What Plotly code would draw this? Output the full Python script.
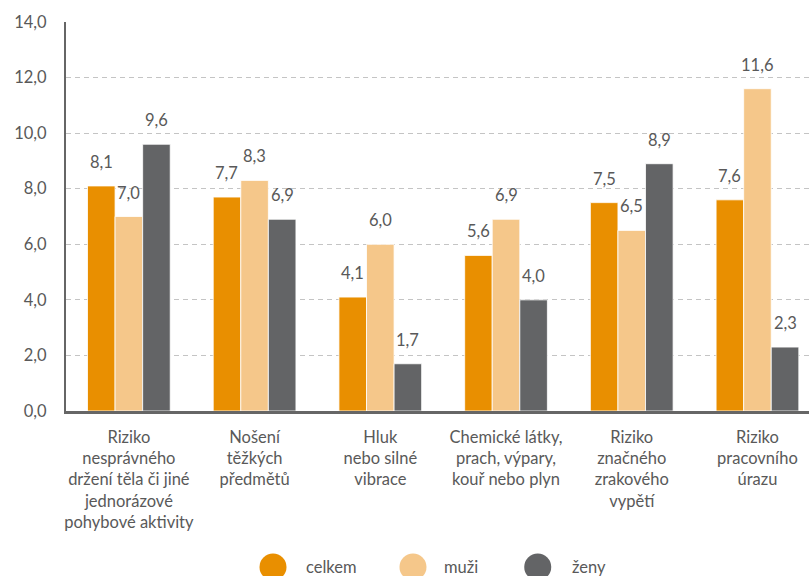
import plotly.graph_objects as go

categories = [
    "Riziko<br>nesprávného<br>držení těla či jiné<br>jednorázové<br>pohybové aktivity",
    "Nošení<br>těžkých<br>předmětů",
    "Hluk<br>nebo silné<br>vibrace",
    "Chemické látky,<br>prach, výpary,<br>kouř nebo plyn",
    "Riziko<br>značného<br>zrakového<br>vypětí",
    "Riziko<br>pracovního<br>úrazu",
]
series_names = ["celkem", "muži", "ženy"]
celkem = [8.1, 7.7, 4.1, 5.6, 7.5, 7.6]
muzi = [7.0, 8.3, 6.0, 6.9, 6.5, 11.6]
zeny = [9.6, 6.9, 1.7, 4.0, 8.9, 2.3]
y_ticks = [0, 2, 4, 6, 8, 10, 12, 14]

colors = ["#E98F00", "#F5C78A", "#636466"]
series_values = [celkem, muzi, zeny]
FONT = "Lato, 'Open Sans', sans-serif"
TXT = "#595959"
FS = 16.5

fig = go.Figure()
for name, vals, col in zip(series_names, series_values, colors):
    fig.add_trace(go.Bar(
        name=name, x=categories, y=vals,
        marker=dict(color=col, line=dict(color="rgba(255,255,255,0.8)", width=1)),
        showlegend=False, hoverinfo="x+y",
    ))

# value labels
bar_px = 27.6
shifts = [-bar_px, 0, bar_px]
annotations = []
for vals, dx in zip(series_values, shifts):
    for c, v in zip(categories, vals):
        annotations.append(dict(
            x=c, y=v, xref="x", yref="y", text=f"{v:.1f}".replace(".", ","),
            showarrow=False, xshift=dx, yshift=24, yanchor="middle",
            font=dict(family=FONT, size=FS, color=TXT),
        ))

# custom legend (large circles)
legend_circle_x = [0.2786, 0.467, 0.6349]
legend_text_x = [0.3204, 0.5057, 0.6783]
legend_y = -0.401
shapes = []
for name, col, cx, tx in zip(series_names, colors, legend_circle_x, legend_text_x):
    shapes.append(dict(
        type="circle", xref="paper", yref="paper", xsizemode="pixel", ysizemode="pixel",
        xanchor=cx, yanchor=legend_y, x0=-13.5, x1=13.5, y0=-13.5, y1=13.5,
        fillcolor=col, line=dict(width=0),
    ))
    annotations.append(dict(
        x=tx, y=legend_y, xref="paper", yref="paper", text=name, showarrow=False,
        xanchor="left", yanchor="middle", font=dict(family=FONT, size=FS, color=TXT),
    ))

fig.update_layout(
    width=809, height=576,
    margin=dict(l=66, r=0, t=22, b=165),
    paper_bgcolor="white", plot_bgcolor="white",
    barmode="group", bargap=0.342, bargroupgap=0,
    separators=", ",
    font=dict(family=FONT, size=FS, color=TXT),
    showlegend=False,
    annotations=annotations, shapes=shapes,
)
fig.update_yaxes(
    range=[0, 14], tickvals=y_ticks, tickformat=".1f",
    showgrid=True, gridcolor="#C4C4C4", gridwidth=1, griddash="5px,4px",
    showline=True, linecolor="#666666", linewidth=2, zeroline=False,
    ticks="outside", ticklen=0, ticklabelstandoff=14,
    tickfont=dict(family=FONT, size=FS, color=TXT),
)
fig.update_xaxes(
    range=[-0.5, 5.41], showline=True, linecolor="#666666", linewidth=2.5,
    showgrid=False, ticks="", ticklabelstandoff=9,
    tickfont=dict(family=FONT, size=FS, color=TXT),
)
fig.write_html("out.html", config={"displayModeBar": False},
               post_script="document.body.style.margin='0';")
